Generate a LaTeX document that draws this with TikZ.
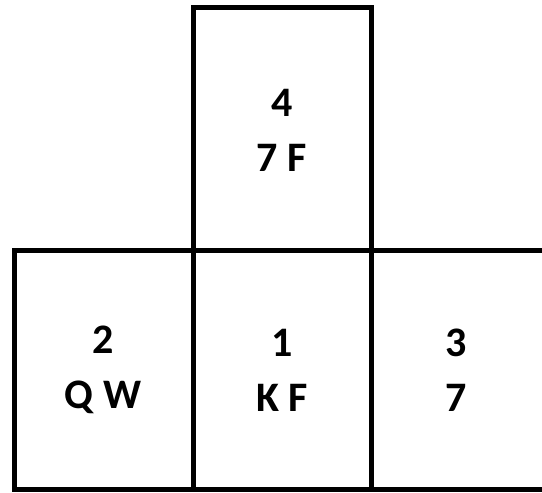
\documentclass[tikz,border=0pt]{standalone}
\usepackage{fontspec}
\setmainfont{Carlito}
\begin{document}
\begin{tikzpicture}[x=1pt,y=1pt,
  gridline/.style={line width=5pt, line cap=rect},
  celltext/.style={align=center, font=\bfseries\fontsize{42}{55}\selectfont, inner sep=0pt}]
\useasboundingbox (0,0) rectangle (542,493);
\fill[white] (0,0) rectangle (542,493);
% top box
\draw[gridline] (193,242) -- (193,485) -- (371,485) -- (371,242);
% bottom row
\draw[gridline] (14,3) rectangle (193,242);
\draw[gridline] (193,242) -- (548,242);
\draw[gridline] (193,3) -- (548,3);
\draw[gridline] (371,3) -- (371,242);
% texts
\node[celltext] (c4) at (282,363) {4\\7 F};
\node[celltext] (c2) at (103,123) {2\\Q W};
\node[celltext] (c1) at (282,123) {1\\K F};
\node[celltext] (c3) at (456,123) {3\\7};
\end{tikzpicture}
\end{document}
